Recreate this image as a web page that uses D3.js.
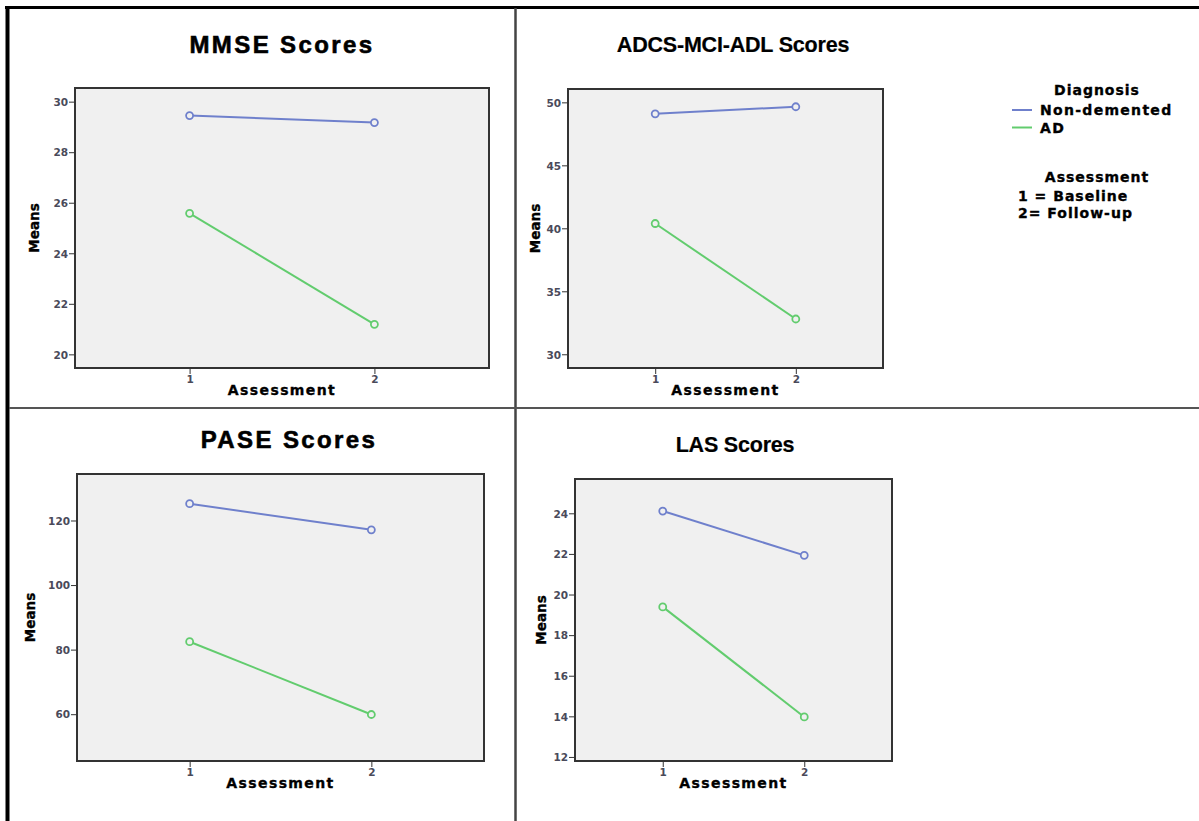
<!DOCTYPE html>
<html>
<head>
<meta charset="utf-8">
<script src="https://cdn.jsdelivr.net/npm/d3@7"></script>
<style>
  body { margin: 0; background: #fff; }
  svg { display: block; }
  .tick text { font-family: "DejaVu Sans", sans-serif; font-weight: bold; font-size: 10.5px; fill: #4a4a5a; }
  .tick line { stroke: #333; }
  .lbl { font-family: "DejaVu Sans", sans-serif; font-weight: bold; fill: #000; stroke: #000; stroke-width: 0.35px; }
</style>
</head>
<body>
<svg id="chart"></svg>
<script>
// assessment points (1 = baseline, 2 = follow-up)
const assessments = [1, 2];
const diagnosis = ["Non-demented", "AD"];

// means
const mmseNonDemented = [29.45, 29.17];
const mmseAD = [25.58, 21.19];
const adlNonDemented = [49.09, 49.65];
const adlAD = [40.38, 32.80];
const paseNonDemented = [125.2, 117.1];
const paseAD = [82.45, 59.9];
const lasNonDemented = [24.11, 21.93];
const lasAD = [19.39, 13.97];

// y ticks and axis ranges
const mmseTicks = [20, 22, 24, 26, 28, 30];
const adlTicks = [30, 35, 40, 45, 50];
const paseTicks = [60, 80, 100, 120];
const lasTicks = [12, 14, 16, 18, 20, 22, 24];
const mmseRange = [19.46, 30.54];
const adlRange = [28.91, 51.06];
const paseRange = [45.5, 134.4];
const lasRange = [11.8, 25.69];

const titles = ["MMSE Scores", "ADCS-MCI-ADL Scores", "PASE Scores", "LAS Scores"];

const w = 1199;
const h = 821;
const colors = ["#6f80cc", "#62cc6e"];

const svg = d3.select("#chart").attr("width", w).attr("height", h);

// where each panel sits
const panels = [
  {title: titles[0], nd: mmseNonDemented, ad: mmseAD, ticks: mmseTicks, range: mmseRange,
   x0: 75, x1: 489, y0: 88, y1: 368, tx: 282, ty: 53, big: true, meansX: 34},
  {title: titles[1], nd: adlNonDemented, ad: adlAD, ticks: adlTicks, range: adlRange,
   x0: 568, x1: 883, y0: 89, y1: 368, tx: 733, ty: 52, big: false, meansX: 535},
  {title: titles[2], nd: paseNonDemented, ad: paseAD, ticks: paseTicks, range: paseRange,
   x0: 77, x1: 484, y0: 474, y1: 761, tx: 289, ty: 448, big: true, meansX: 30},
  {title: titles[3], nd: lasNonDemented, ad: lasAD, ticks: lasTicks, range: lasRange,
   x0: 575, x1: 892, y0: 479, y1: 761, tx: 735, ty: 452, big: false, meansX: 541}
];

const drawPanel = (p) => {
  const g = svg.append("g");
  const x = d3.scaleLinear().domain([0.38, 2.62]).range([p.x0, p.x1]);
  const y = d3.scaleLinear().domain(p.range).range([p.y1, p.y0]);

  g.append("rect").attr("x", p.x0).attr("y", p.y0)
    .attr("width", p.x1 - p.x0).attr("height", p.y1 - p.y0)
    .attr("fill", "#f0f0f0").attr("stroke", "#333").attr("stroke-width", 2);

  const ya = g.append("g").attr("transform", `translate(${p.x0 - 1},0)`)
    .call(d3.axisLeft(y).tickValues(p.ticks).tickSize(5).tickPadding(1).tickFormat(d3.format("d")));
  ya.select(".domain").remove();
  ya.selectAll(".tick text").attr("dy", "0.36em");

  const xa = g.append("g").attr("transform", `translate(0,${p.y1 + 1})`)
    .call(d3.axisBottom(x).tickValues(assessments).tickSize(5).tickPadding(2).tickFormat(d3.format("d")));
  xa.select(".domain").remove();

  // title
  g.append("text").attr("x", p.tx).attr("y", p.ty).attr("text-anchor", "middle")
    .attr("font-family", "'Liberation Sans', Arial, sans-serif").attr("font-weight", "bold")
    .attr("font-size", p.big ? 24 : 21.5).attr("letter-spacing", p.big ? 2.4 : -0.2)
    .attr("stroke", "#000").attr("stroke-width", p.big ? 0.6 : 0.2)
    .text(p.title);

  // axis titles
  g.append("text").attr("class", "lbl").attr("font-size", 14).attr("letter-spacing", 1.4)
    .attr("x", (p.x0 + p.x1) / 2).attr("y", p.y1 + 27).attr("text-anchor", "middle")
    .text("Assessment");
  g.append("text").attr("class", "lbl").attr("font-size", 13.5)
    .attr("transform", `translate(${p.meansX + 5},${(p.y0 + p.y1) / 2}) rotate(-90)`)
    .attr("text-anchor", "middle").text("Means");

  const line = d3.line().x((d, i) => x(assessments[i])).y(d => y(d));
  [p.nd, p.ad].forEach((vals, k) => {
    g.append("path").datum(vals).attr("d", line)
      .attr("fill", "none").attr("stroke", colors[k]).attr("stroke-width", 2);
    g.selectAll(null).data(vals).enter().append("circle")
      .attr("cx", (d, i) => x(assessments[i])).attr("cy", d => y(d)).attr("r", 3.5)
      .attr("fill", "#f0f0f0").attr("stroke", colors[k]).attr("stroke-width", 1.8);
  });
};

panels.forEach(drawPanel);

// legend
const leg = svg.append("g");
leg.append("text").attr("class", "lbl").attr("font-size", 14).attr("letter-spacing", 1)
  .attr("x", 1097).attr("y", 95).attr("text-anchor", "middle").text("Diagnosis");
diagnosis.forEach((d, i) => {
  const yy = 115 + i * 17.5;
  leg.append("line").attr("x1", 1012).attr("x2", 1032).attr("y1", yy - 5).attr("y2", yy - 5)
    .attr("stroke", colors[i]).attr("stroke-width", 2);
  leg.append("text").attr("class", "lbl").attr("font-size", 14).attr("letter-spacing", 1.3)
    .attr("x", 1040).attr("y", yy).text(d);
});
leg.append("text").attr("class", "lbl").attr("font-size", 14).attr("letter-spacing", 1)
  .attr("x", 1097).attr("y", 182).attr("text-anchor", "middle").text("Assessment");
leg.append("text").attr("class", "lbl").attr("font-size", 14).attr("letter-spacing", 1)
  .attr("x", 1018).attr("y", 201).text("1 = Baseline");
leg.append("text").attr("class", "lbl").attr("font-size", 14).attr("letter-spacing", 1)
  .attr("x", 1018).attr("y", 218).text("2= Follow-up");

// frame and dividers
svg.append("line").attr("x1", 5).attr("x2", 1199).attr("y1", 7.5).attr("y2", 7.5)
  .attr("stroke", "#000").attr("stroke-width", 3);
svg.append("line").attr("x1", 7.5).attr("x2", 7.5).attr("y1", 6).attr("y2", h)
  .attr("stroke", "#000").attr("stroke-width", 4);
svg.append("line").attr("x1", 515.5).attr("x2", 515.5).attr("y1", 8).attr("y2", h)
  .attr("stroke", "#444").attr("stroke-width", 2.5);
svg.append("line").attr("x1", 9).attr("x2", 1199).attr("y1", 408).attr("y2", 408)
  .attr("stroke", "#555").attr("stroke-width", 2);
</script>
</body>
</html>
